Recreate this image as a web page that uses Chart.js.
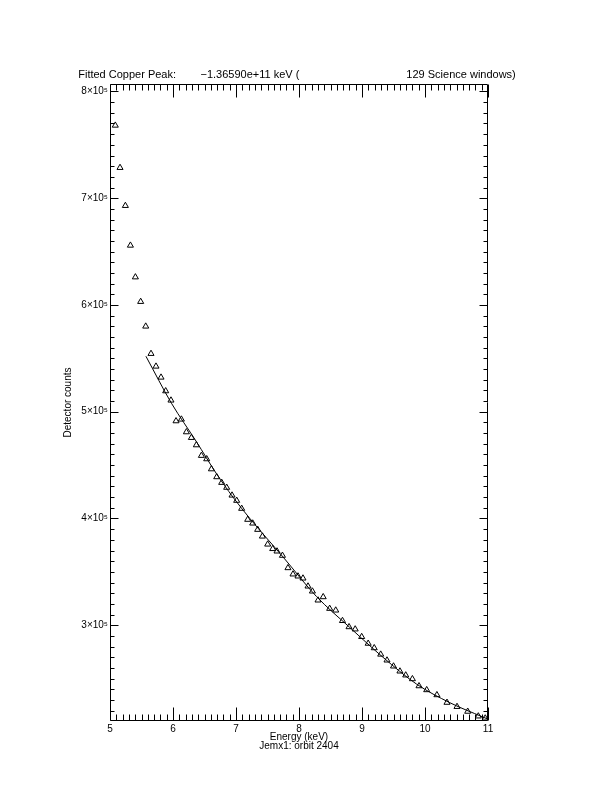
<!DOCTYPE html>
<html>
<head>
<meta charset="utf-8">
<script src="https://cdn.jsdelivr.net/npm/chart.js@4.4.1/dist/chart.umd.min.js"></script>
<style>
  html, body { margin: 0; padding: 0; background: #fff; }
  #chart { display: block; }
</style>
</head>
<body>
<canvas id="chart" width="612" height="792"></canvas>
<script>
// Measured points (energy in keV, detector counts)
const energy = [
  5.084, 5.159, 5.244, 5.324, 5.403, 5.487, 5.567, 5.651, 5.730, 5.810,
  5.884, 5.968, 6.048, 6.133, 6.213, 6.292, 6.371, 6.451, 6.535, 6.610,
  6.694, 6.773, 6.852, 6.937, 7.011, 7.090, 7.186, 7.265, 7.344, 7.419,
  7.503, 7.583, 7.651, 7.737, 7.825, 7.905, 7.984, 8.063, 8.143, 8.213,
  8.302, 8.384, 8.487, 8.583, 8.690, 8.794, 8.892, 8.995, 9.098, 9.194,
  9.297, 9.397, 9.500, 9.602, 9.694, 9.800, 9.905, 10.027, 10.189, 10.349,
  10.508, 10.678, 10.846, 10.956
];
const counts = [
  768200, 728600, 693000, 655800, 626100, 603100, 580000, 554400, 542500, 532200,
  519400, 510700, 491300, 492900, 481000, 475700, 468800, 458900, 455700, 446300,
  438900, 433600, 429000, 421700, 416800, 409300, 399000, 395500, 389600, 383300,
  375800, 371600, 369300, 365300, 353700, 347800, 345900, 344000, 336500, 331800,
  323400, 326500, 315600, 314000, 304200, 298400, 296300, 289200, 282900, 278700,
  272700, 267200, 261600, 256900, 253200, 249700, 243100, 239400, 234700, 227600,
  223700, 219200, 214800, 212900
];

// Fitted curve
const fitEnergy = [5.57, 5.975, 6.371, 6.689, 6.952, 7.22, 7.746, 8.276, 8.805, 9.333, 9.863, 10.392, 10.92, 11.0];
const fitCounts = [552000, 508000, 472000, 442000, 420000, 400000, 364000, 327000, 298000, 270000, 245000, 227500, 214000, 212000];

// Axes
const xTicks = [5, 6, 7, 8, 9, 10, 11];
const yTicks = [300000, 400000, 500000, 600000, 700000, 800000];
const yTickLabels = ['3×10⁵', '4×10⁵', '5×10⁵', '6×10⁵', '7×10⁵', '8×10⁵'];
const xMinor = 0.1;
const yMinor = 10000;
const yMin = 210300;
const yMax = 807000;

const titleText = 'Fitted Copper Peak:        \u22121.36590e+11 keV (                                   129 Science windows)';
const fontFamily = '"Liberation Sans", "DejaVu Sans", Arial, sans-serif';

// IDL style frame: box with inward major/minor ticks on all four sides
const frameTicks = {
  id: 'frameTicks',
  afterDraw(chart) {
    const ctx = chart.ctx;
    const a = chart.chartArea;
    const x = chart.scales.x;
    const y = chart.scales.y;
    const L = Math.round(a.left) + 0.5, R = Math.round(a.right) - 0.5;
    const T = Math.round(a.top) + 0.5, B = Math.round(a.bottom) - 0.5;
    ctx.save();
    ctx.strokeStyle = '#000';
    ctx.lineWidth = 1;
    ctx.beginPath();
    ctx.rect(L, T, R - L, B - T);
    const nx = Math.round((xTicks[xTicks.length - 1] - xTicks[0]) / xMinor);
    const perX = Math.round((xTicks[1] - xTicks[0]) / xMinor);
    for (let i = 0; i <= nx; i++) {
      const px = Math.round(x.getPixelForValue(xTicks[0] + i * xMinor)) + 0.5;
      const len = i % perX === 0 ? 13 : 6;
      ctx.moveTo(px, B); ctx.lineTo(px, B - len);
      ctx.moveTo(px, T); ctx.lineTo(px, T + len);
    }
    const perY = Math.round((yTicks[1] - yTicks[0]) / yMinor);
    for (let i = Math.ceil(yMin / yMinor); i * yMinor <= yMax; i++) {
      const py = Math.round(y.getPixelForValue(i * yMinor)) + 0.5;
      const len = i % perY === 0 ? 8 : 4;
      ctx.moveTo(L, py); ctx.lineTo(L + len, py);
      ctx.moveTo(R, py); ctx.lineTo(R - len, py);
    }
    ctx.stroke();
    ctx.restore();
  }
};

var ctx = document.getElementById('chart').getContext('2d');
var chart = new Chart(ctx, {
  type: 'scatter',
  data: {
    datasets: [{
      label: 'Counts',
      data: energy.map((e, i) => ({ x: e, y: counts[i] })),
      pointStyle: 'triangle',
      pointRadius: 3.5,
      borderColor: '#000',
      backgroundColor: 'rgba(0,0,0,0)',
      borderWidth: 1,
      showLine: false
    }, {
      label: 'Fit',
      data: fitEnergy.map((e, i) => ({ x: e, y: fitCounts[i] })),
      showLine: true,
      pointRadius: 0,
      borderColor: '#000',
      borderWidth: 1,
      cubicInterpolationMode: 'monotone',
      fill: false
    }]
  },
  options: {
    responsive: false,
    animation: false,
    devicePixelRatio: 1,
    layout: { padding: { left: 0, right: 18, top: 0, bottom: 0 } },
    plugins: {
      legend: { display: false },
      tooltip: { enabled: false },
      title: {
        display: true,
        text: titleText,
        color: '#000',
        font: { family: fontFamily, size: 11, weight: 'normal' },
        padding: { top: 68.4, bottom: 2.4 }
      }
    },
    scales: {
      x: {
        type: 'linear',
        position: 'bottom',
        min: xTicks[0],
        max: xTicks[xTicks.length - 1],
        afterBuildTicks: s => { s.ticks = xTicks.map(v => ({ value: v })); },
        afterFit: s => { s.height = 71; },
        grid: { display: false, drawTicks: false },
        border: { display: false },
        ticks: {
          color: '#000',
          font: { family: fontFamily, size: 10 },
          padding: 2,
          maxRotation: 0,
          autoSkip: false,
          callback: (v, i) => String(xTicks[i])
        },
        title: {
          display: true,
          text: ['Energy (keV)', 'Jemx1: orbit 2404'],
          color: '#000',
          font: { family: fontFamily, size: 10, lineHeight: 0.9 },
          padding: { top: 0, bottom: 41.5 }
        }
      },
      y: {
        type: 'linear',
        position: 'left',
        min: yMin,
        max: yMax,
        afterBuildTicks: s => { s.ticks = yTicks.map(v => ({ value: v })); },
        afterFit: s => { s.width = 110; },
        grid: { display: false, drawTicks: false },
        border: { display: false },
        ticks: {
          color: '#000',
          font: { family: fontFamily, size: 10 },
          padding: 2,
          autoSkip: false,
          callback: (v, i) => yTickLabels[i]
        },
        title: {
          display: true,
          text: 'Detector counts',
          color: '#000',
          font: { family: fontFamily, size: 10 },
          padding: { top: 62, bottom: 0 }
        }
      },
      y2: {
        type: 'linear',
        position: 'right',
        min: yMin,
        max: yMax,
        afterFit: s => { s.width = 106; },
        grid: { display: false, drawTicks: false },
        border: { display: false },
        ticks: { display: false }
      }
    }
  },
  plugins: [frameTicks]
});
</script>
</body>
</html>
